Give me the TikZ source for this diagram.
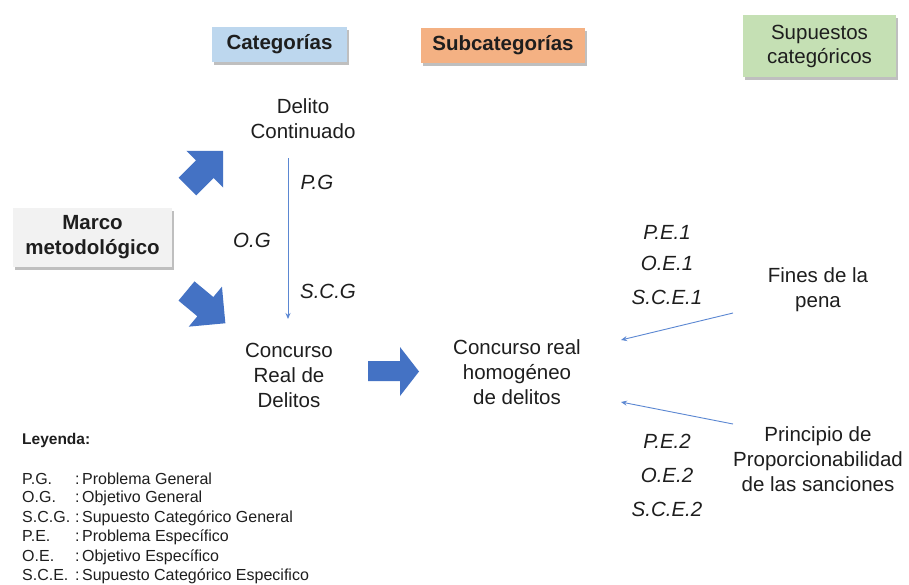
\documentclass[tikz,border=0pt]{standalone}
\usepackage{fontspec}
\setmainfont{Liberation Sans}
\usetikzlibrary{shadows,arrows.meta}
\definecolor{blk}{HTML}{4472C4}
\definecolor{thinb}{HTML}{5B87D2}
\definecolor{catb}{HTML}{BDD7EE}
\definecolor{subo}{HTML}{F4B183}
\definecolor{supg}{HTML}{C5E0B4}
\definecolor{marg}{HTML}{F2F2F2}
\definecolor{ink}{HTML}{1E1E1E}
\newcommand{\legab}[2]{\makebox[53pt][l]{#1}:\hspace{2.5pt}#2}
\begin{document}
\begin{tikzpicture}[x=1pt,y=1pt,
  txt/.style={font=\fontsize{20.5}{25}\selectfont, align=center, inner sep=0pt, text=ink},
  hdr/.style={font=\fontsize{20.5}{24}\selectfont, align=center, inner sep=0pt, text=ink,
    drop shadow={shadow xshift=1.5pt, shadow yshift=-2.5pt, fill=black, opacity=0.25}},
  lbl/.style={font=\itshape\fontsize{20.5}{25}\selectfont, inner sep=0pt, text=ink},
  thinarrow/.style={draw=thinb, line width=0.9pt, -{Stealth[length=6pt,width=5pt]}},
  leg/.style={font=\fontsize{16}{19.5}\selectfont, anchor=west, inner sep=0pt, text=ink},
  blockarrow/.style={fill=blk, draw=none}
]
\useasboundingbox[fill=white] (0,0) rectangle (909,-584);

% header boxes
\node[hdr, fill=catb, minimum width=135pt, minimum height=35pt, font=\bfseries\fontsize{20.5}{24}\selectfont] (cat) at (279.5,-44.5) {Categorías};
\node[hdr, fill=subo, minimum width=164pt, minimum height=35pt, font=\bfseries\fontsize{20.5}{24}\selectfont] (sub) at (503,-45.5) {Subcategorías};
\node[hdr, fill=supg, minimum width=153pt, minimum height=62pt] (sup) at (819.5,-46) {Supuestos\\categóricos};
\node[hdr, fill=marg, minimum width=159pt, minimum height=59pt, font=\bfseries\fontsize{20.5}{25}\selectfont] (marco) at (92.5,-237.5) {Marco\\metodológico};

% text nodes
\node[txt] (dc) at (303,-119) {Delito\\Continuado};
\node[txt] (crd) at (289,-375) {Concurso\\Real de\\Delitos};
\node[txt] (crh) at (517,-372) {Concurso real\\homogéneo\\de delitos};
\node[txt] (fines) at (818,-290) {Fines de la\\pena};
\node[txt] (princ) at (818,-459) {Principio de\\Proporcionabilidad\\de las sanciones};

% italic labels
\node[lbl] (pg) at (317,-182) {P.G};
\node[lbl] (og) at (252,-240) {O.G};
\node[lbl] (scg) at (328,-291) {S.C.G};
\node[lbl] (pe1) at (667,-232) {P.E.1};
\node[lbl] (oe1) at (667,-263) {O.E.1};
\node[lbl] (sce1) at (667,-297) {S.C.E.1};
\node[lbl] (pe2) at (667,-441) {P.E.2};
\node[lbl] (oe2) at (667,-475) {O.E.2};
\node[lbl] (sce2) at (667,-509) {S.C.E.2};

% thin connectors
\coordinate (vtop) at (288,-158);
\coordinate (vbot) at (288,-319);
\draw[thinarrow] (vtop) -- (vbot);
\coordinate (fa) at (733,-313);
\coordinate (fb) at (621,-340);
\draw[thinarrow] (fa) -- (fb);
\coordinate (pa) at (733,-424);
\coordinate (pb) at (621,-402);
\draw[thinarrow] (pa) -- (pb);

% block arrows
\begin{scope}[shift={(187.5,-186.5)}, rotate=45]
\fill[blockarrow] (0,-12.5) -- (24.5,-12.5) -- (24.5,-26) -- (50.5,0) -- (24.5,26) -- (24.5,12.5) -- (0,12.5) -- cycle;
\end{scope}
\begin{scope}[shift={(186.5,-291)}, rotate=-39.7]
\fill[blockarrow] (0,-12.5) -- (24.5,-12.5) -- (24.5,-26) -- (50.5,0) -- (24.5,26) -- (24.5,12.5) -- (0,12.5) -- cycle;
\end{scope}
\fill[blockarrow] (368,-361) -- (400,-361) -- (400,-347) -- (419,-371.5) -- (400,-396) -- (400,-381) -- (368,-381) -- cycle;

% legend
\node[leg, font=\bfseries\fontsize{15.5}{19.5}\selectfont] (ley) at (22,-440) {Leyenda:};
\node[leg] (l1) at (22,-479) {\legab{P.G.}{Problema General}};
\node[leg] (l2) at (22,-498) {\legab{O.G.}{Objetivo General}};
\node[leg] (l3) at (22,-518) {\legab{S.C.G.}{Supuesto Categórico General}};
\node[leg] (l4) at (22,-537) {\legab{P.E.}{Problema Específico}};
\node[leg] (l5) at (22,-557) {\legab{O.E.}{Objetivo Específico}};
\node[leg] (l6) at (22,-576) {\legab{S.C.E.}{Supuesto Categórico Especifico}};
\end{tikzpicture}
\end{document}
